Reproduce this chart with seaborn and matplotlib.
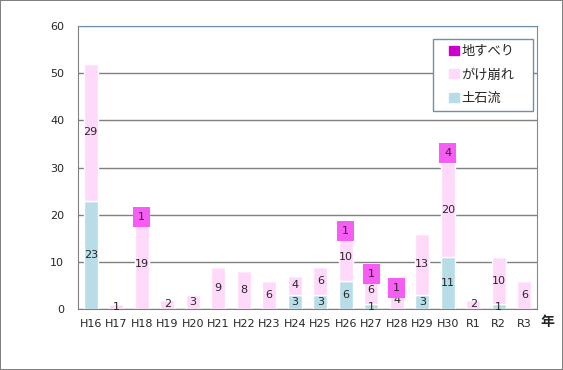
import numpy as np
import pandas as pd
import seaborn as sns
import matplotlib.pyplot as plt
from matplotlib.patches import Patch, Rectangle

years = ["H16", "H17", "H18", "H19", "H20", "H21", "H22", "H23", "H24",
         "H25", "H26", "H27", "H28", "H29", "H30", "R1", "R2", "R3"]
debris = [23, 0, 0, 0, 0, 0, 0, 0, 3, 3, 6, 1, 0, 3, 11, 0, 1, 0]      # 土石流
cliff = [29, 1, 19, 2, 3, 9, 8, 6, 4, 6, 10, 6, 4, 13, 20, 2, 10, 6]   # がけ崩れ
slide = [0, 0, 1, 0, 0, 0, 0, 0, 0, 0, 1, 1, 1, 0, 4, 0, 0, 0]         # 地すべり

df = pd.DataFrame({"year": years, "debris": debris, "cliff": cliff, "slide": slide})

sns.set_style("white")
plt.rcParams['font.family'] = ['DejaVu Sans', 'Noto Sans CJK JP']

c_debris = "#B7DDE8"
c_cliff = "#FFD9FA"
c_slide = "#CC00CC"
c_label = "#F75CF5"
c_frame = "#6F8FAF"

fig = plt.figure(figsize=(5.63, 3.70), dpi=100)
fig.patch.set_edgecolor("#808080")
fig.patch.set_linewidth(1.2)
ax = fig.add_axes([78/563, 1-309/370, 459/563, 283/370])

bottom2 = df["debris"].values
bottom3 = bottom2 + df["cliff"].values

sns.barplot(data=df, x="year", y="debris", color=c_debris, saturation=1, width=0.55, ax=ax, zorder=2)
sns.barplot(data=df, x="year", y="cliff", bottom=bottom2, color=c_cliff, saturation=1, width=0.55, ax=ax, zorder=2)
sns.barplot(data=df, x="year", y="slide", bottom=bottom3, color=c_slide, saturation=1, width=0.55, ax=ax, zorder=2)

def lab(vals):
    return [str(v) if v > 0 else "" for v in vals]

ax.bar_label(ax.containers[0], labels=lab(debris), label_type="center", fontsize=8)
ax.bar_label(ax.containers[1], labels=lab(cliff), label_type="center", fontsize=8)
ax.bar_label(ax.containers[2], labels=lab(slide), label_type="center", fontsize=8,
             bbox=dict(boxstyle="square,pad=0.45", facecolor=c_label, edgecolor="none"))

ax.set_ylim(0, 60)
ax.set_xlim(-0.5, len(years) - 0.5)
ax.set_yticks(range(0, 61, 10))
ax.yaxis.grid(True, color="#808080", linewidth=1, zorder=0)
ax.set_axisbelow(True)
ax.set_xlabel("")
ax.set_ylabel("")
ax.tick_params(axis="y", length=0, labelsize=8, pad=10)
ax.tick_params(axis="x", length=0, labelsize=8, pad=7)
ax.set_xticks(np.arange(0.5, len(years) - 1, 1), minor=True)
ax.tick_params(axis="x", which="minor", direction="in", length=4, color="#808080")

for s in ["left", "bottom"]:
    ax.spines[s].set_color("#808080")
for s in ["top", "right"]:
    ax.spines[s].set_color(c_frame)

# legend box (drawn separately to get the wide side padding)
ax.add_patch(Rectangle((0.773, 0.700), 0.218, 0.254, transform=ax.transAxes,
                       facecolor="white", edgecolor=c_frame, linewidth=1, zorder=5))
handles = [Patch(color=c_slide, label="地すべり"),
           Patch(color=c_cliff, label="がけ崩れ"),
           Patch(color=c_debris, label="土石流")]
leg = ax.legend(handles=handles, loc="center", bbox_to_anchor=(0.880, 0.827),
                borderaxespad=0, borderpad=0, fontsize=9.5, handlelength=0.7,
                handleheight=0.7, handletextpad=0.2, labelspacing=0.8, frameon=False)
leg.set_zorder(6)

fig.text(547/563, 1-322/370, "年", fontsize=10, fontweight="bold", ha="center", va="center")

plt.savefig("out.png", dpi=100)
